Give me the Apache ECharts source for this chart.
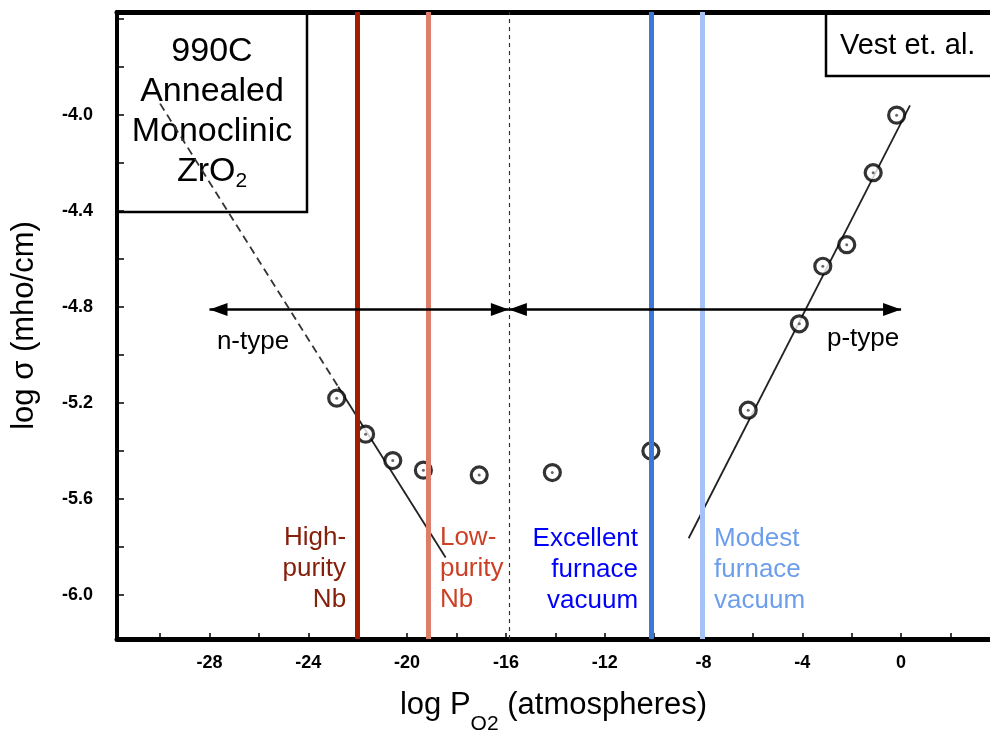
<!DOCTYPE html>
<html>
<head>
<meta charset="utf-8">
<script src="https://cdn.jsdelivr.net/npm/echarts@6/dist/echarts.min.js"></script>
<style>
  html, body { margin: 0; padding: 0; background: #fff; }
  #chart { width: 990px; height: 740px; }
</style>
</head>
<body>
<div id="chart"></div>
<script>
// measured points (Vest et al.)
var logP = [-22.85, -21.68, -20.58, -19.34, -17.08, -14.12, -10.13, -6.19, -4.12, -3.17, -2.2, -1.13, -0.18];
var logSigma = [-5.18, -5.33, -5.44, -5.48, -5.50, -5.49, -5.40, -5.23, -4.87, -4.63, -4.54, -4.24, -4.00];

// fit lines
var nDashX = [-30, -22.79];
var nDashY = [-3.952, -5.132];
var nSolidX = [-22.79, -18.44];
var nSolidY = [-5.132, -5.844];
var pFitX = [-8.60, 0.36];
var pFitY = [-5.764, -3.959];

// marker lines
var niobiumP = [-22, -19.15];
var vacuumP = [-10.12, -8.07];
var boundaryP = -15.88;
var arrowLevel = -4.81;
var nRange = [-28, -15.88];
var pRange = [-15.88, 0];

// ticks
var xTicks = [-30, -28, -26, -24, -22, -20, -18, -16, -14, -12, -10, -8, -6, -4, -2, 0, 2];
var xLabels = [-28, -24, -20, -16, -12, -8, -4, 0];
var yTicks = [-6.0, -5.8, -5.6, -5.4, -5.2, -5.0, -4.8, -4.6, -4.4, -4.2, -4.0, -3.8, -3.6];
var yLabels = [-6.0, -5.6, -5.2, -4.8, -4.4, -4.0];

function pairs(xs, ys) {
  return xs.map(function (x, i) { return [x, ys[i]]; });
}

var FONT = 'Liberation Sans';

var option = {
  animation: false,
  backgroundColor: '#fff',
  grid: { left: 117, right: 0, top: 12, bottom: 90, containLabel: false },
  xAxis: [{
    type: 'value', position: 'bottom', min: -31.745, max: 3.6,
    axisLine: { onZero: false, lineStyle: { color: '#000', width: 5 } },
    axisTick: { inside: true, length: 6, customValues: xTicks, lineStyle: { color: '#000', width: 1.5 } },
    axisLabel: { customValues: xLabels, color: '#000', fontFamily: FONT, fontWeight: 'bold', fontSize: 18, margin: 15 },
    splitLine: { show: false },
    name: '{m|log P}{s|O2}{m| (atmospheres)}',
    nameLocation: 'middle', nameGap: 36,
    nameTextStyle: {
      color: '#000', fontFamily: FONT,
      rich: {
        m: { fontSize: 31, lineHeight: 60, fontFamily: FONT, color: '#000' },
        s: { fontSize: 21, verticalAlign: 'bottom', lineHeight: 8, fontFamily: FONT, color: '#000' }
      }
    }
  }, {
    type: 'value', position: 'top', min: -31.745, max: 3.6,
    axisLine: { onZero: false, lineStyle: { color: '#000', width: 5 } },
    axisTick: { show: false }, axisLabel: { show: false }, splitLine: { show: false }
  }],
  yAxis: {
    type: 'value', min: -6.184, max: -3.57,
    axisLine: { show: true, onZero: false, lineStyle: { color: '#000', width: 4 } },
    axisTick: { show: true, inside: true, length: 7, customValues: yTicks, lineStyle: { color: '#000', width: 1.5 } },
    axisLabel: {
      customValues: yLabels, color: '#000', fontFamily: FONT, fontWeight: 'bold', fontSize: 18, margin: 24,
      formatter: function (v) { return v.toFixed(1); }
    },
    splitLine: { show: false },
    name: 'log σ (mho/cm)', nameLocation: 'middle', nameGap: 77, nameRotate: 90,
    nameTextStyle: { color: '#000', fontFamily: FONT, fontSize: 31 }
  },
  series: [
    {
      type: 'line', data: pairs(nDashX, nDashY), symbol: 'none', z: 2,
      lineStyle: { color: '#333', width: 1.8, type: [8, 5] }
    },
    {
      type: 'line', data: pairs(nSolidX, nSolidY), symbol: 'none', z: 2,
      lineStyle: { color: '#222', width: 1.8 }
    },
    {
      type: 'line', data: pairs(pFitX, pFitY), symbol: 'none', z: 2,
      lineStyle: { color: '#222', width: 1.8 }
    },
    {
      type: 'scatter', data: pairs(logP, logSigma), symbol: 'circle', symbolSize: 16, z: 3,
      itemStyle: { color: '#fff', borderColor: '#000', borderWidth: 3.2 }
    },
    {
      type: 'scatter', data: pairs(logP, logSigma), symbol: 'circle', symbolSize: 3, z: 4,
      itemStyle: { color: '#444' }
    },
    {
      type: 'line', data: [], z: 5,
      markLine: {
        silent: true, symbol: 'none', label: { show: false },
        data: [
          { xAxis: boundaryP, lineStyle: { color: '#333', width: 1.2, type: [4, 4] } },
          { xAxis: niobiumP[0], lineStyle: { color: '#a61c00', width: 5, type: 'solid' } },
          { xAxis: niobiumP[1], lineStyle: { color: '#dd7e6b', width: 5, type: 'solid' } },
          { xAxis: vacuumP[0], lineStyle: { color: '#3c78d8', width: 5, type: 'solid' } },
          { xAxis: vacuumP[1], lineStyle: { color: '#a4c2f4', width: 5, type: 'solid' } }
        ]
      }
    },
    {
      type: 'line', data: [], z: 6,
      markLine: {
        silent: true, symbol: ['triangle', 'triangle'], symbolSize: [13, 18],
        symbolOffset: [[0, 9], [0, 9]],
        label: { show: false },
        lineStyle: { color: '#000', width: 2.5, type: 'solid' },
        data: [
          [{ coord: [nRange[0], arrowLevel] }, { coord: [nRange[1], arrowLevel] }],
          [{ coord: [pRange[0], arrowLevel] }, { coord: [pRange[1], arrowLevel] }]
        ],
        itemStyle: { color: '#000' }
      }
    }
  ]
};

var chart = echarts.init(document.getElementById('chart'));
chart.setOption(option);

function px(x, y) { return chart.convertToPixel({ gridIndex: 0 }, [x, y]); }

var notes = [
  { text: 'High-\npurity\nNb', at: [-22.47, -5.699], align: 'right', color: '#85200c' },
  { text: 'Low-\npurity\nNb', at: [-18.67, -5.699], align: 'left', color: '#cc4125' },
  { text: 'Excellent\nfurnace\nvacuum', at: [-10.65, -5.703], align: 'right', color: '#0000ff' },
  { text: 'Modest\nfurnace\nvacuum', at: [-7.57, -5.703], align: 'left', color: '#6d9eeb' }
];
var tags = [
  { text: 'n-type', at: [-27.7, -4.947] },
  { text: 'p-type', at: [-3.0, -4.934] }
];

var graphics = [];
notes.forEach(function (n) {
  var p = px(n.at[0], n.at[1]);
  graphics.push({
    type: 'text', x: p[0], y: p[1], z: 50, silent: true,
    style: { text: n.text, fill: n.color, fontFamily: FONT, fontSize: 26, lineHeight: 31, align: n.align, verticalAlign: 'top' }
  });
});
tags.forEach(function (t) {
  var p = px(t.at[0], t.at[1]);
  graphics.push({
    type: 'text', x: p[0], y: p[1], z: 50, silent: true,
    style: { text: t.text, fill: '#000', fontFamily: FONT, fontSize: 26, align: 'left', verticalAlign: 'middle' }
  });
});

// title boxes
graphics.push({
  type: 'group', z: 100, silent: true,
  children: [
    { type: 'rect', shape: { x: 117, y: 12, width: 190, height: 200 }, style: { fill: '#fff', stroke: '#000', lineWidth: 2.5 } },
    {
      type: 'text', x: 212, y: 112,
      style: {
        text: '990C\nAnnealed\nMonoclinic\nZrO{s|2}', fill: '#000', fontFamily: FONT, fontSize: 34, lineHeight: 40,
        align: 'center', verticalAlign: 'middle',
        rich: { s: { fontSize: 21, lineHeight: 8, verticalAlign: 'bottom', fontFamily: FONT, fill: '#000' } }
      }
    }
  ]
});
graphics.push({
  type: 'group', z: 100, silent: true,
  children: [
    { type: 'rect', shape: { x: 826, y: 12, width: 180, height: 64 }, style: { fill: '#fff', stroke: '#000', lineWidth: 2.5 } },
    { type: 'text', x: 840, y: 46, style: { text: 'Vest et. al.', fill: '#000', fontFamily: FONT, fontSize: 29, align: 'left', verticalAlign: 'middle' } }
  ]
});
chart.setOption({ graphic: graphics });
</script>
</body>
</html>
